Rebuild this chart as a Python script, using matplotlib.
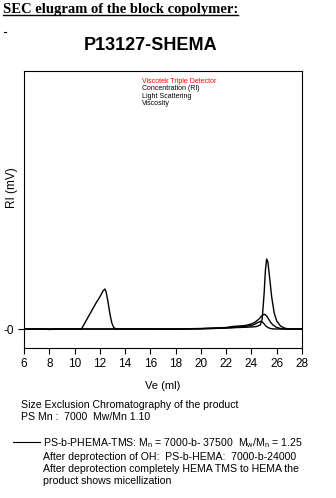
import matplotlib
matplotlib.use('Agg')

import matplotlib.pyplot as plt
from matplotlib.lines import Line2D

plt.rcParams['font.family'] = ['Liberation Sans', 'DejaVu Sans']

# elution volume (ml) and detector signals
ri_ve = [6, 7.5, 8, 8.5, 10, 10.55, 10.9, 11.3, 11.7, 12.0, 12.25, 12.4, 12.5,
         12.65, 12.8, 12.95, 13.1, 13.3, 16, 18, 20, 22, 23, 24, 24.4, 24.7,
         24.85, 25.0, 25.1, 25.2, 25.3, 25.45, 25.6, 25.8, 26.0, 26.3, 26.6,
         26.9, 28]
ri_mv = [0, 0, -0.5, 0, 0, 0, 8, 17, 26, 32, 38, 40, 37,
         27, 15, 6, 1.5, 0, 0, -0.3, 0.3, 1, 1.5, 2, 2.5, 4,
         10, 35, 58, 70, 67, 50, 32, 16, 8, 3, 1, 0, 0]

ls_ve = [6, 10, 14, 18, 20, 21, 22, 22.5, 23, 23.5, 24, 24.3, 24.6, 24.8,
         24.95, 25.05, 25.2, 25.35, 25.5, 25.7, 26.0, 26.3, 26.6, 28]
ls_mv = [0, 0, 0, 0, 0.5, 1, 1.5, 2.5, 3, 3.5, 5, 7, 10, 13,
         14.5, 14.7, 13, 10, 7, 4, 1.5, 0.5, 0, 0]

visc_ve = [6, 10, 14, 18, 20, 21, 22, 22.5, 23, 23.5, 24, 24.3, 24.5, 24.7,
           24.8, 24.95, 25.1, 25.3, 25.5, 25.8, 28]
visc_mv = [0, 0, 0, 0, 0.2, 0.5, 1, 1.5, 2, 2.5, 3.5, 5, 6.5, 7.5,
           7.6, 6, 3.5, 1.5, 0.5, 0, 0]

xticks = [6, 8, 10, 12, 14, 16, 18, 20, 22, 24, 26, 28]

fig = plt.figure(figsize=(3.36, 4.98), dpi=100)
ax = fig.add_axes([24 / 336, 1 - 348 / 498, 278 / 336, 277 / 498])

ax.plot(ri_ve, ri_mv, color='black', lw=1.0)
ax.plot(ls_ve, ls_mv, color='black', lw=1.0)
ax.plot(visc_ve, visc_mv, color='black', lw=1.0)

ax.set_xlim(6, 28)
ax.set_ylim(-19, 258)
ax.set_xticks(xticks)
ax.set_xticklabels([str(t) for t in xticks], fontsize=8.5)
ax.set_yticks([0])
ax.set_yticklabels(['-0'], fontsize=8.5)
ax.tick_params(direction='out', length=4, width=0.8, pad=3)
for s in ax.spines.values():
    s.set_linewidth(0.8)
ax.set_ylabel('RI (mV)', fontsize=8.5)
ax.yaxis.set_label_coords(-0.022, 0.58)
ax.set_xlabel('Ve (ml)', fontsize=8)
ax.xaxis.set_label_coords(0.5, -0.12)

# detector legend inside the plot
ax.text(0.425, 0.975, 'Viscotek Triple Detector', color='red', fontsize=5.0,
        transform=ax.transAxes, va='top')
ax.text(0.425, 0.948, 'Concentration (RI)', color='black', fontsize=5.0,
        transform=ax.transAxes, va='top')
ax.text(0.425, 0.921, 'Light Scattering', color='black', fontsize=5.0,
        transform=ax.transAxes, va='top')
ax.text(0.425, 0.894, 'Viscosity', color='black', fontsize=5.0,
        transform=ax.transAxes, va='top')

# header and title
hdr = fig.text(3 / 336, 1 - 13 / 498, 'SEC elugram of the block copolymer:',
               family='Liberation Serif', weight='bold', fontsize=10.5)
fig.canvas.draw()
bb = hdr.get_window_extent()
fig.add_artist(Line2D([bb.x0 / 336, bb.x1 / 336],
                      [1 - 15 / 498, 1 - 15 / 498], color='black', lw=1.0))
fig.add_artist(Line2D([4 / 336, 6 / 336], [1 - 32 / 498, 1 - 32 / 498],
                      color='black', lw=0.8))
fig.text(151 / 336, 1 - 45 / 498, 'P13127-SHEMA', weight='bold', fontsize=13,
         ha='center', va='center')

# notes below the chart
fig.text(21 / 336, 1 - 408 / 498, 'Size Exclusion Chromatography of the product',
         fontsize=7.6)
fig.text(21 / 336, 1 - 420 / 498, 'PS Mn :  7000  Mw/Mn 1.10', fontsize=7.6)
fig.add_artist(Line2D([13 / 336, 40 / 336], [1 - 442 / 498, 1 - 442 / 498],
                      color='black', lw=0.8))
fig.text(43 / 336, 1 - 446 / 498,
         r'PS-b-PHEMA-TMS: M$_\mathregular{n}$ = 7000-b- 37500  '
         r'M$_\mathregular{w}$/M$_\mathregular{n}$ = 1.25', fontsize=7.6)
fig.text(43 / 336, 1 - 460 / 498, 'After deprotection of OH:  PS-b-HEMA:  7000-b-24000',
         fontsize=7.6)
fig.text(43 / 336, 1 - 472 / 498, 'After deprotection completely HEMA TMS to HEMA the',
         fontsize=7.6)
fig.text(43 / 336, 1 - 484 / 498, 'product shows micellization', fontsize=7.6)

fig.savefig('out.png', dpi=100)
